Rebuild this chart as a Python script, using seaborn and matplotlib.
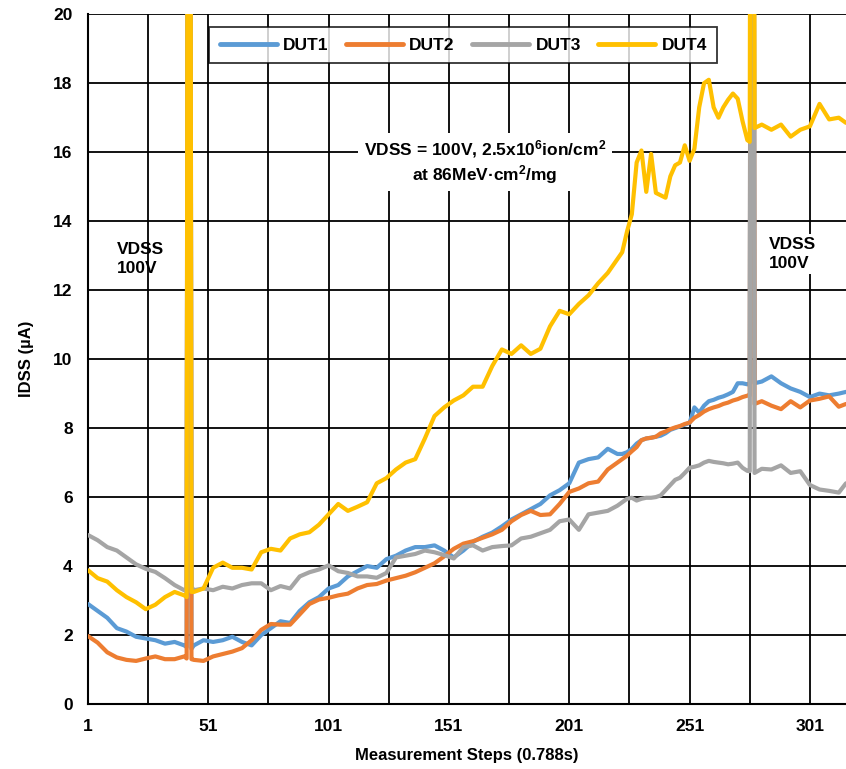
import numpy as np
import pandas as pd
import seaborn as sns
import matplotlib.pyplot as plt
from matplotlib.ticker import MultipleLocator, FixedLocator

# off-scale reading at the two VDSS steps (clipped by the 20 uA axis limit)
S = 60.0

steps = ([1, 5, 9, 13, 17, 21, 25, 29, 33, 37, 41, 42, 43, 44]
         + list(range(45, 222, 4))
         + list(range(223, 276, 2))
         + [276, 277, 278]
         + list(range(281, 314, 4)) + [316])

dut1 = ([2.9, 2.7, 2.5, 2.2, 2.1, 1.95, 1.9, 1.85, 1.75, 1.8, 1.7, 1.65, S, 1.6,
         1.7, 1.85, 1.8, 1.85, 1.95, 1.8, 1.7, 2.0, 2.2, 2.4,
         2.35, 2.7, 2.95, 3.1, 3.35, 3.45, 3.7, 3.85, 4.0, 3.95,
         4.2, 4.3, 4.45, 4.55, 4.55, 4.6, 4.45, 4.25, 4.45, 4.7,
         4.85, 4.97, 5.15, 5.35, 5.5, 5.65, 5.8, 6.05, 6.2, 6.4,
         7.0, 7.1, 7.15, 7.4, 7.25]
        + [7.25, 7.3, 7.4, 7.55, 7.65, 7.7, 7.72, 7.75, 7.78, 7.85, 7.95, 8.0, 8.05, 8.1,
           8.15, 8.6, 8.45, 8.65, 8.78, 8.82, 8.88, 8.92, 8.98, 9.05, 9.3, 9.3, 9.27]
        + [9.27, S, 9.3]
        + [9.35, 9.5, 9.3, 9.15, 9.05, 8.9, 9.0, 8.95, 9.0, 9.05])

dut2 = ([1.97, 1.78, 1.5, 1.35, 1.28, 1.25, 1.32, 1.38, 1.3, 1.3, 1.38, 1.32, S, 1.3,
         1.28, 1.25, 1.38, 1.45, 1.52, 1.62, 1.85, 2.15, 2.32, 2.3,
         2.3, 2.6, 2.9, 3.03, 3.08, 3.15, 3.2, 3.35, 3.45, 3.48,
         3.58, 3.65, 3.72, 3.82, 3.95, 4.08, 4.28, 4.5, 4.65, 4.72,
         4.82, 4.92, 5.05, 5.3, 5.48, 5.6, 5.48, 5.5, 5.8, 6.15,
         6.25, 6.4, 6.45, 6.8, 7.0]
        + [7.1, 7.2, 7.33, 7.45, 7.65, 7.7, 7.72, 7.75, 7.85, 7.9, 7.97, 8.02, 8.06, 8.12,
           8.16, 8.3, 8.38, 8.48, 8.55, 8.6, 8.64, 8.7, 8.74, 8.8, 8.84, 8.9, 8.94]
        + [8.95, S, 8.7]
        + [8.78, 8.65, 8.55, 8.78, 8.6, 8.8, 8.85, 8.92, 8.62, 8.7])

dut3 = ([4.9, 4.75, 4.55, 4.45, 4.25, 4.05, 3.92, 3.83, 3.65, 3.45, 3.3, 3.35, S, 3.4,
         3.3, 3.35, 3.3, 3.4, 3.35, 3.45, 3.5, 3.5, 3.3, 3.42,
         3.35, 3.7, 3.82, 3.9, 4.02, 3.85, 3.8, 3.7, 3.7, 3.66,
         3.8, 4.25, 4.3, 4.35, 4.45, 4.4, 4.32, 4.22, 4.55, 4.6,
         4.45, 4.55, 4.58, 4.6, 4.8, 4.85, 4.95, 5.05, 5.3, 5.35,
         5.05, 5.5, 5.55, 5.6, 5.75]
        + [5.85, 5.95, 5.98, 5.9, 5.95, 5.98, 5.98, 6.0, 6.05, 6.2, 6.35, 6.5, 6.56, 6.7,
           6.85, 6.88, 6.92, 7.0, 7.05, 7.02, 7.0, 6.98, 6.95, 6.97, 7.0, 6.85, 6.76]
        + [6.75, S, 6.7]
        + [6.82, 6.8, 6.92, 6.7, 6.75, 6.35, 6.22, 6.18, 6.13, 6.4])

dut4 = ([3.88, 3.65, 3.55, 3.3, 3.1, 2.95, 2.75, 2.88, 3.1, 3.25, 3.15, 3.1, S, 3.25,
         3.25, 3.35, 3.95, 4.1, 3.95, 3.95, 3.9, 4.4, 4.5, 4.45,
         4.8, 4.92, 4.98, 5.2, 5.5, 5.8, 5.6, 5.72, 5.85, 6.4,
         6.55, 6.8, 7.0, 7.1, 7.7, 8.35, 8.6, 8.8, 8.95, 9.2,
         9.2, 9.8, 10.28, 10.15, 10.4, 10.15, 10.3, 10.95, 11.4, 11.3,
         11.6, 11.85, 12.2, 12.5, 12.9]
        + [13.1, 13.7, 14.2, 15.7, 16.05, 14.85, 15.95, 14.82, 14.75, 14.68, 15.3, 15.62, 15.7, 16.2,
           15.75, 16.1, 17.3, 18.0, 18.1, 17.3, 17.0, 17.3, 17.52, 17.7, 17.55, 16.9, 16.35]
        + [16.3, S, 16.7]
        + [16.8, 16.65, 16.8, 16.45, 16.65, 16.75, 17.4, 16.95, 17.0, 16.85])

names = ["DUT1", "DUT2", "DUT3", "DUT4"]
colors = ["#5B9BD5", "#ED7D31", "#A5A5A5", "#FFC000"]

df = pd.DataFrame({"step": steps, "DUT1": dut1, "DUT2": dut2, "DUT3": dut3, "DUT4": dut4})
long = df.melt(id_vars="step", var_name="device", value_name="idss")

sns.set_style("white")
plt.rcParams["font.family"] = ["Liberation Sans", "DejaVu Sans"]
plt.rcParams["font.weight"] = "bold"
plt.rcParams["text.color"] = "black"
plt.rcParams["axes.labelcolor"] = "black"
plt.rcParams["mathtext.fontset"] = "custom"
plt.rcParams["mathtext.rm"] = "Liberation Sans:bold"
plt.rcParams["mathtext.bf"] = "Liberation Sans:bold"
plt.rcParams["mathtext.default"] = "rm"

fig = plt.figure(figsize=(8.46, 7.69), dpi=100)
ax = fig.add_axes([0.104, 0.0845, 0.896, 0.897])

sns.lineplot(data=long, x="step", y="idss", hue="device", palette=colors,
             hue_order=names, estimator=None, sort=False, linewidth=3.0, ax=ax, zorder=3)

ax.set_xlim(1, 316)
ax.set_ylim(0, 20)
ax.xaxis.set_major_locator(FixedLocator([1, 51, 101, 151, 201, 251, 301]))
ax.xaxis.set_minor_locator(FixedLocator([26, 76, 126, 176, 226, 276]))
ax.yaxis.set_major_locator(MultipleLocator(2))
ax.set_axisbelow(True)
ax.grid(which="both", color="black", linewidth=1.3)
ax.tick_params(axis="both", which="major", direction="out", length=6, width=1.3,
               labelsize=12.5, pad=5, colors="black")
ax.tick_params(axis="x", which="minor", length=0)
for lab in ax.get_xticklabels() + ax.get_yticklabels():
    lab.set_fontweight("bold")

for side in ["top", "right"]:
    ax.spines[side].set_visible(False)
for side in ["left", "bottom"]:
    ax.spines[side].set_color("black")
    ax.spines[side].set_linewidth(1.5)

ax.set_xlabel("Measurement Steps (0.788s)", fontsize=12, fontweight="bold", labelpad=10)
ax.set_ylabel("IDSS (µA)", fontsize=12, fontweight="bold", labelpad=14)

leg = ax.legend(loc="upper center", bbox_to_anchor=(0.495, 0.981), borderaxespad=0,
                ncol=4, frameon=True, fancybox=False, edgecolor="black", fontsize=12.5,
                handlelength=3.3, columnspacing=1.0, handletextpad=0.35, borderpad=0.6)
leg.get_frame().set_linewidth(1.3)
for t in leg.get_texts():
    t.set_fontweight("bold")
for h in leg.get_lines():
    h.set_linewidth(3.5)
    h.set_solid_capstyle("round")

box = dict(facecolor="white", edgecolor="none", pad=2)
ax.text(13, 12.9, "VDSS\n100V", fontsize=12.5, fontweight="bold", ha="left", va="center",
        linespacing=1.3, zorder=1.5)
ax.text(284, 13.05, "VDSS\n100V", fontsize=12.5, fontweight="bold", ha="left", va="center",
        linespacing=1.3, bbox=box, zorder=1.5)
ax.text(166, 15.72,
        "VDSS = 100V, 2.5x10$^{6}$ion/cm$^{2}$\nat 86MeV\u00b7cm$^{2}$/mg",
        fontsize=12.5, fontweight="bold", ha="center", va="center", linespacing=1.15,
        bbox=dict(facecolor="white", edgecolor="none", pad=4), zorder=1.5)

fig.savefig("out.png", dpi=100)
